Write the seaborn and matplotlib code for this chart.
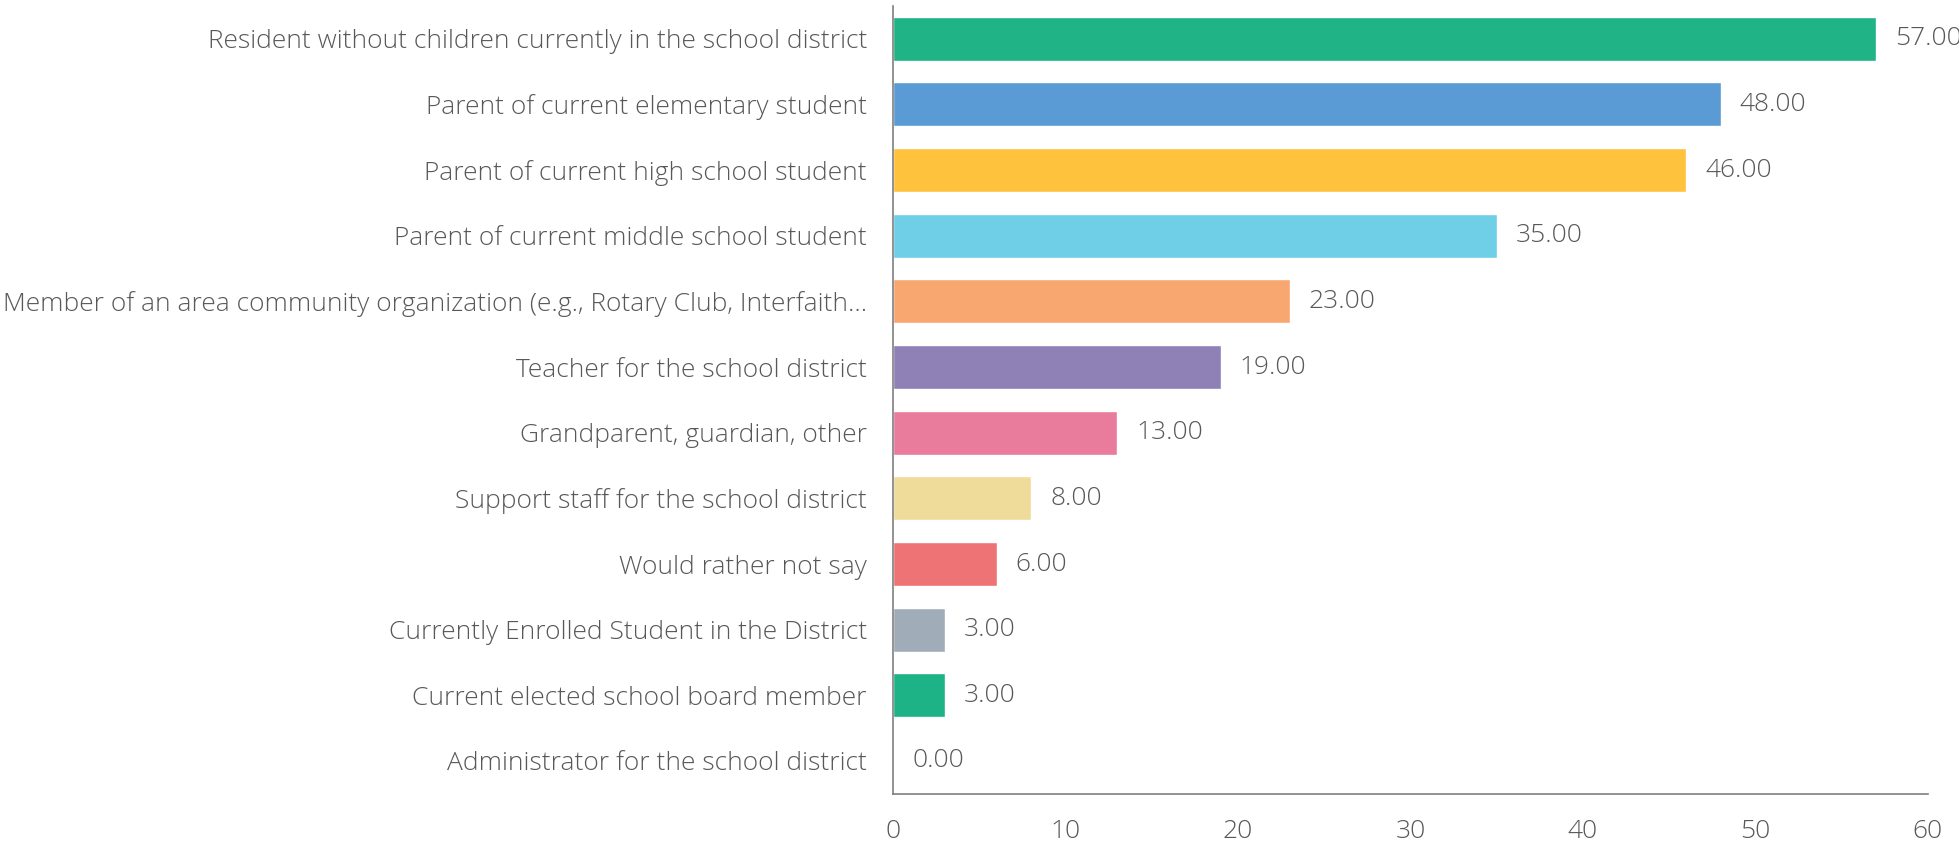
import matplotlib
matplotlib.use("Agg")
import matplotlib.pyplot as plt
import seaborn as sns
import pandas as pd

categories = [
    "Resident without children currently in the school district",
    "Parent of current elementary student",
    "Parent of current high school student",
    "Parent of current middle school student",
    "Member of an area community organization (e.g., Rotary Club, Interfaith...",
    "Teacher for the school district",
    "Grandparent, guardian, other",
    "Support staff for the school district",
    "Would rather not say",
    "Currently Enrolled Student in the District",
    "Current elected school board member",
    "Administrator for the school district",
]
values = [57, 48, 46, 35, 23, 19, 13, 8, 6, 3, 3, 0]
colors = ["#1fb386", "#5b9bd5", "#ffc23d", "#6fcfe6", "#f9a771", "#8f80b6",
          "#e97c9c", "#f0dc9a", "#ee7375", "#a0adb8", "#1db387", "#cccccc"]
xticks = [0, 10, 20, 30, 40, 50, 60]

sns.set_style("white")
plt.rcParams['font.family'] = ['Open Sans', 'DejaVu Sans']
plt.rcParams['font.weight'] = 300
text_color = "#585858"

df = pd.DataFrame({"cat": categories, "val": values})
fig = plt.figure(figsize=(19.59, 8.49), dpi=100)
ax = fig.add_axes([0.456, 0.065, 0.528, 0.928])
sns.barplot(data=df, y="cat", x="val", hue="cat", palette=colors, legend=False,
            orient="h", width=0.67, ax=ax, saturation=1)

ax.set_xlim(0, 60)
ax.set_ylim(len(categories) - 0.5, -0.5)
ax.set_xticks(xticks)
ax.set_xticklabels([str(t) for t in xticks])
ax.set_xlabel("")
ax.set_ylabel("")
for s in ["top", "right"]:
    ax.spines[s].set_visible(False)
for s in ["left", "bottom"]:
    ax.spines[s].set_color("#7f7f7f")
    ax.spines[s].set_linewidth(1.2)

fs = 19
ax.set_yticks([i - 0.5 for i in range(len(categories) + 1)], minor=True)
ax.tick_params(axis="y", which="major", length=0, pad=19, labelsize=fs, labelcolor=text_color)
ax.tick_params(axis="y", which="minor", length=6, color="#7f7f7f", direction="out")
ax.tick_params(axis="x", length=7, color="#7f7f7f", direction="out", pad=11,
               labelsize=fs, labelcolor=text_color)

for i, v in enumerate(values):
    ax.text(v + 1.1, i, f"{v:.2f}", va="center", ha="left", fontsize=fs,
            color=text_color, clip_on=False)

fig.savefig("out.png", dpi=100)
